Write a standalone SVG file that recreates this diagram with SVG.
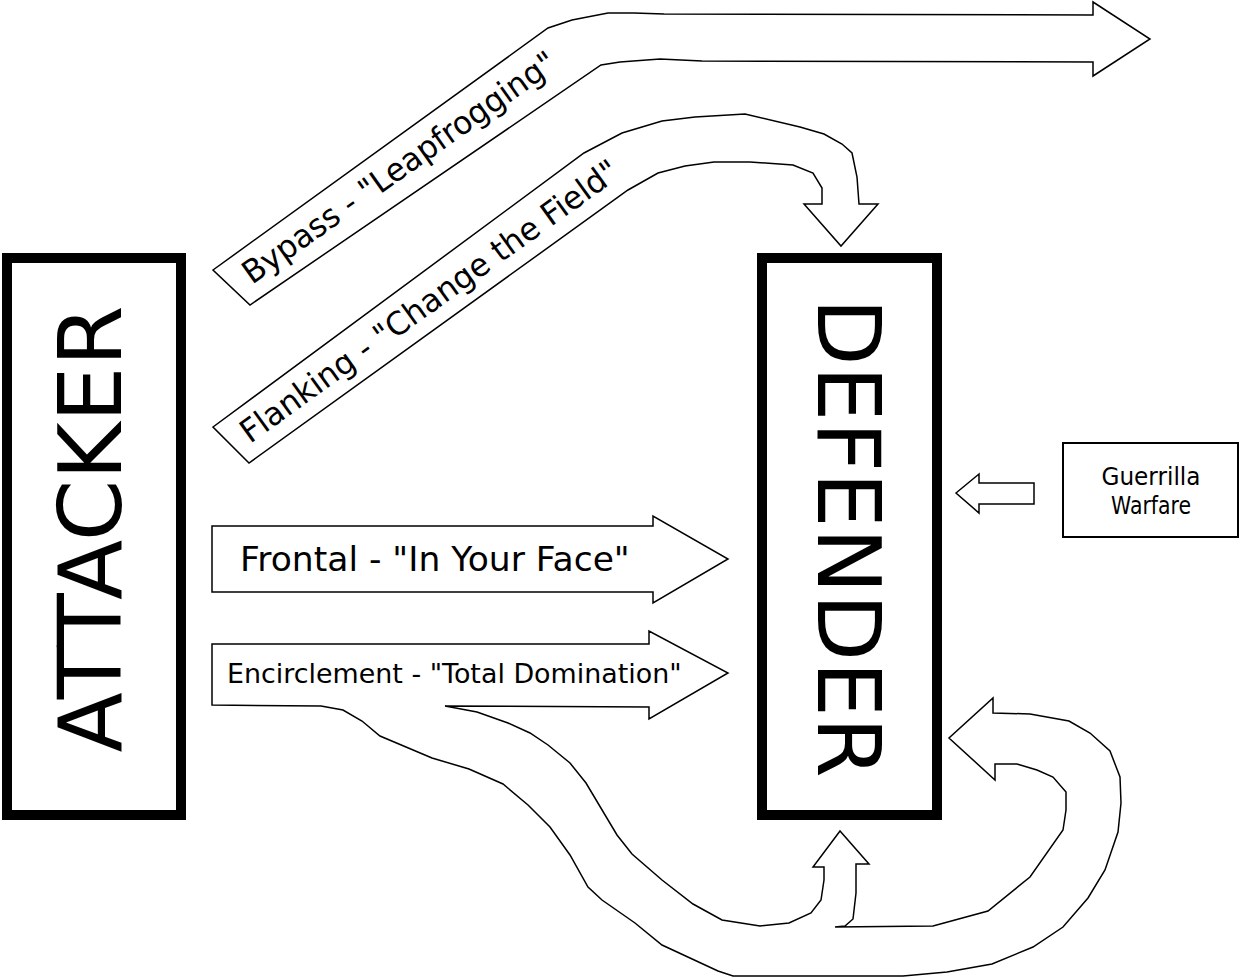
<svg xmlns="http://www.w3.org/2000/svg" width="1241" height="978" viewBox="0 0 1241 978">
<style>
.arrow{fill:#fff;stroke:#000;stroke-width:1.5;stroke-linejoin:miter}
.box{fill:#fff;stroke:#000;stroke-width:10}
.small{fill:#fff;stroke:#000;stroke-width:2}
text{font-family:"DejaVu Sans","Liberation Sans",sans-serif;fill:#000}
.big{font-size:88px}
</style>
<rect width="1241" height="978" fill="#fff"/>
<g id="connectors">
  <g id="bypass">
    <polygon class="arrow" points="213,270 548,28 572,20 608,13 634,13 664,14 1093,15 1093,2 1150,39 1093,76 1093,62 702,61 660,59 620,62 601,65 250,305"/>
    <text font-size="32" textLength="376" lengthAdjust="spacingAndGlyphs" transform="translate(252,285) rotate(-35.3)">Bypass - "Leapfrogging"</text>
  </g>
  <g id="flanking">
    <polygon class="arrow" points="213,427 584,153 622,133 662,121 695,117 745,114 800,127 824,134 842,144 852,153 857,177 859,204 878,204 841,246 804,204 822,204 822,188 813,173 793,165 750,162 714,162 685,166 658,173 628,190 249,463"/>
    <text font-size="32" textLength="458" lengthAdjust="spacingAndGlyphs" transform="translate(250,444) rotate(-35.8)">Flanking - "Change the Field"</text>
  </g>
  <g id="frontal">
    <polygon class="arrow" points="212,526 653,526 653,516 728,559 653,603 653,592 212,592"/>
    <text font-size="34.5" x="240" y="571">Frontal - "In Your Face"</text>
  </g>
  <g id="encirclement">
    <polygon class="arrow" points="212,644 649,644 649,631 728,673 649,719 649,707 445,706 477,712 508,723 530,733 548,745 570,763 586,783 617,835 632,854 662,880 693,904 722,920 760,926 789,923 811,913 821,900 824,880 824,867 813,867 840,831 869,864 856,864 856,893 853,919 845,926 835,927 933,926 988,911 1030,877 1063,830 1066,810 1066,792 1053,777 1037,770 1017,764 995,764 995,780 949,738 993,698 993,713 1030,714 1069,721 1090,733 1110,751 1120,777 1121,803 1118,832 1105,870 1088,898 1063,927 1033,947 992,964 947,972 903,976 733,976 718,971 662,945 635,923 602,900 588,887 570,855 550,827 528,805 503,784 469,769 432,758 380,736 362,721 343,710 321,706 212,705"/>
    <text font-size="26.9" x="227" y="683">Encirclement - "Total Domination"</text>
  </g>
  <g id="guerrilla-arrow">
    <polygon class="arrow" points="956,493 979,474 979,483 1034,483 1034,504 979,504 979,513"/>
  </g>
</g>
<g id="attacker">
  <rect class="box" x="7" y="258" width="174" height="557"/>
  <text class="big" text-anchor="middle" transform="translate(121,529) rotate(-90)">ATTACKER</text>
</g>
<g id="defender">
  <rect class="box" x="762" y="258" width="175" height="557"/>
  <text class="big" text-anchor="middle" transform="translate(818,538) rotate(90)">DEFENDER</text>
</g>
<g id="guerrilla">
  <rect class="small" x="1063" y="443" width="175" height="94"/>
  <text font-size="24" textLength="99" lengthAdjust="spacingAndGlyphs" text-anchor="middle" x="1151" y="485">Guerrilla</text>
  <text font-size="24" textLength="80" lengthAdjust="spacingAndGlyphs" text-anchor="middle" x="1151" y="514">Warfare</text>
</g>
</svg>
